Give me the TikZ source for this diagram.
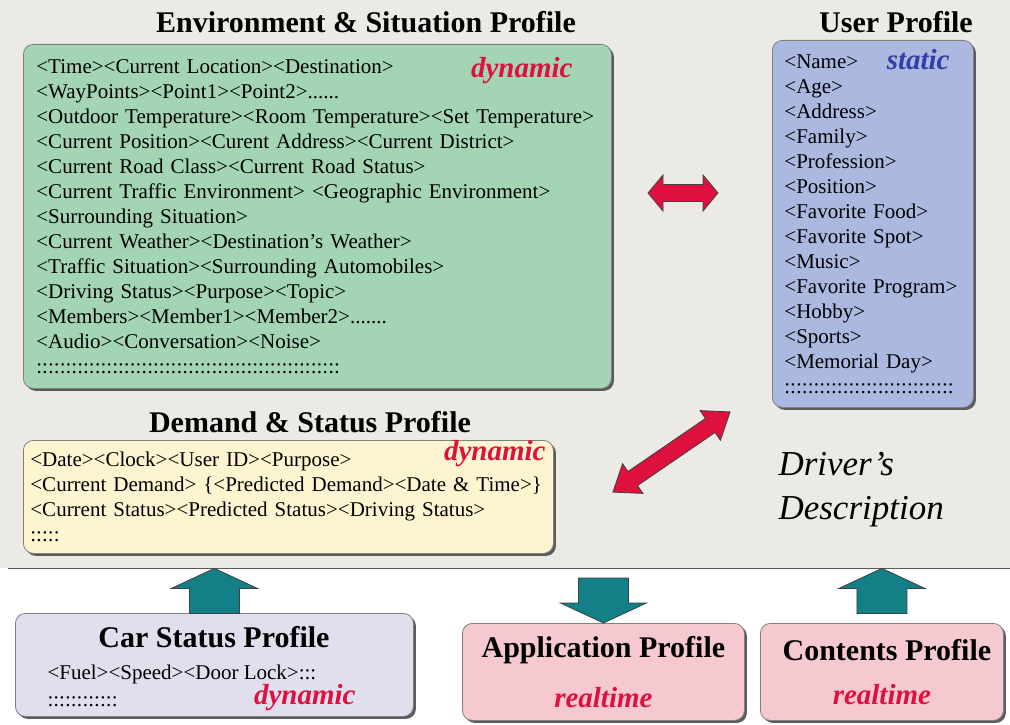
\documentclass[tikz,border=0pt]{standalone}
\usepackage{fontspec}
\setmainfont{Liberation Serif}
\usetikzlibrary{positioning, shadows}

\definecolor{panelgray}{RGB}{236,234,229}
\definecolor{envgreen}{RGB}{163,213,180}
\definecolor{userblue}{RGB}{171,185,224}
\definecolor{demandyellow}{RGB}{255,244,208}
\definecolor{carlilac}{RGB}{223,223,238}
\definecolor{apppink}{RGB}{246,200,207}
\definecolor{kindred}{RGB}{222,16,62}
\definecolor{kindblue}{RGB}{52,62,168}
\definecolor{flowteal}{RGB}{18,128,134}

\tikzset{
  profile/.style={draw=black!50, line width=0.8pt, rounded corners=10pt,
    anchor=north west, align=left, inner xsep=13pt, inner ysep=0pt,
    font=\fontsize{21}{25}\selectfont,
    drop shadow={shadow xshift=2.5pt, shadow yshift=-2.5pt, fill=black!70, opacity=0.9}},
  heading/.style={font=\fontsize{30}{34}\selectfont\bfseries},
  kind/.style={inner sep=0pt, font=\fontsize{29}{34}\selectfont\bfseries\itshape},
  redarrow/.style={fill=kindred, draw=black!75, line width=0.8pt},
  tealarrow/.style={fill=flowteal, draw=black!75, line width=0.8pt},
  % block arrow, tip at the origin, pointing up
  pics/blockup/.style={code={
    \draw[tealarrow] (0,0) -- (43,20) -- (25,20) -- (25,45) -- (-25,45)
      -- (-25,20) -- (-43,20) -- cycle;}},
  % two-headed block arrow: half length, head length
  pics/twoway/.style 2 args={code={
    \draw[redarrow] (-#1,0) -- (-#1+#2,-18) -- (-#1+#2,-8.5) -- (#1-#2,-8.5)
      -- (#1-#2,-18) -- (#1,0) -- (#1-#2,18) -- (#1-#2,8.5) -- (-#1+#2,8.5)
      -- (-#1+#2,18) -- cycle;}},
}

\begin{document}
\begin{tikzpicture}[x=1pt, y=-1pt]
  \useasboundingbox[fill=white] (0,0) rectangle (1010,725);

  % driver's description area
  \node[fill=panelgray, inner sep=0pt, minimum width=1010pt, minimum height=568pt,
        anchor=north west] (desc) at (0,0) {};
  \draw[black!65, line width=1.5pt] ([xshift=8pt]desc.south west) -- (desc.south east);

  \node[profile, fill=envgreen, text width=562pt, minimum height=344pt] (env) at (23,44)
    {<Time><Current Location><Destination>\\
     <WayPoints><Point1><Point2>......\\
     <Outdoor Temperature><Room Temperature><Set Temperature>\\
     <Current Position><Curent Address><Current District>\\
     <Current Road Class><Current Road Status>\\
     <Current Traffic Environment> <Geographic Environment>\\
     <Surrounding Situation>\\
     <Current Weather><Destination’s Weather>\\
     <Traffic Situation><Surrounding Automobiles>\\
     <Driving Status><Purpose><Topic>\\
     <Members><Member1><Member2>.......\\
     <Audio><Conversation><Noise>\\
     ::::::::::::::::::::::::::::::::::::::::::::::::::::};
  \node[heading] (envtitle) at (366,22) {Environment \& Situation Profile};
  \node[kind, text=kindred, below left=13pt and 39pt of env.north east] (envkind) {dynamic};

  \node[profile, fill=userblue, text width=177pt, inner xsep=12pt, minimum height=367pt]
    (user) at (772,40)
    {<Name>\\ <Age>\\ <Address>\\ <Family>\\ <Profession>\\ <Position>\\
     <Favorite Food>\\ <Favorite Spot>\\ <Music>\\ <Favorite Program>\\
     <Hobby>\\ <Sports>\\ <Memorial Day>\\
     :::::::::::::::::::::::::::::};
  \node[heading] (usertitle) at (896,22) {User Profile};
  \node[kind, text=kindblue, below left=9pt and 24pt of user.north east] (userkind) {static};

  \node[profile, fill=demandyellow, text width=516pt, inner xsep=7pt, minimum height=113pt]
    (demand) at (23,440)
    {<Date><Clock><User ID><Purpose>\\
     <Current Demand> \{<Predicted Demand><Date \& Time>\}\\
     <Current Status><Predicted Status><Driving Status>\\
     :::::};
  \node[heading] (demandtitle) at (310,422) {Demand \& Status Profile};
  \node[kind, text=kindred, below left=0pt and 8pt of demand.north east] (demandkind) {dynamic};

  \node[anchor=west, align=left, font=\fontsize{35}{44}\selectfont\itshape] (driver)
    at (775,490) {Driver’s\\Description};

  % exchanges between the profiles
  \pic at (683,193) {twoway={35}{15}};
  \pic[rotate=34.4] at (671.5,452) {twoway={71}{24}};

  % profiles outside
  \node[profile, fill=carlilac, minimum width=398pt, minimum height=103pt] (car) at (15,613) {};
  \node[heading] (cartitle) at (214,637) {Car Status Profile};
  \node[anchor=west, align=left, font=\fontsize{21}{27}\selectfont] (carfields) at (44,686)
    {<Fuel><Speed><Door Lock>:::\\ ::::::::::::};
  \node[kind, text=kindred, below left=71pt and 58pt of car.north east] (carkind) {dynamic};

  \node[profile, fill=apppink, minimum width=282pt, minimum height=97pt] (app) at (462,623) {};
  \node[heading] (apptitle) at ([yshift=22pt]app.center) {Application Profile};
  \node[kind, text=kindred] (appkind) at ([yshift=-26pt]app.center) {realtime};

  \node[profile, fill=apppink, minimum width=243pt, minimum height=97pt] (cont) at (760,623) {};
  \node[heading] (conttitle) at ([xshift=5pt, yshift=22pt]cont.center) {Contents Profile};
  \node[kind, text=kindred] (contkind) at ([yshift=-23pt]cont.center) {realtime};

  % flows across the boundary
  \pic at (car.north |- desc.south) {blockup};
  \pic[rotate=180] at (app.north) {blockup};
  \pic at (cont.north |- desc.south) {blockup};
\end{tikzpicture}
\end{document}
